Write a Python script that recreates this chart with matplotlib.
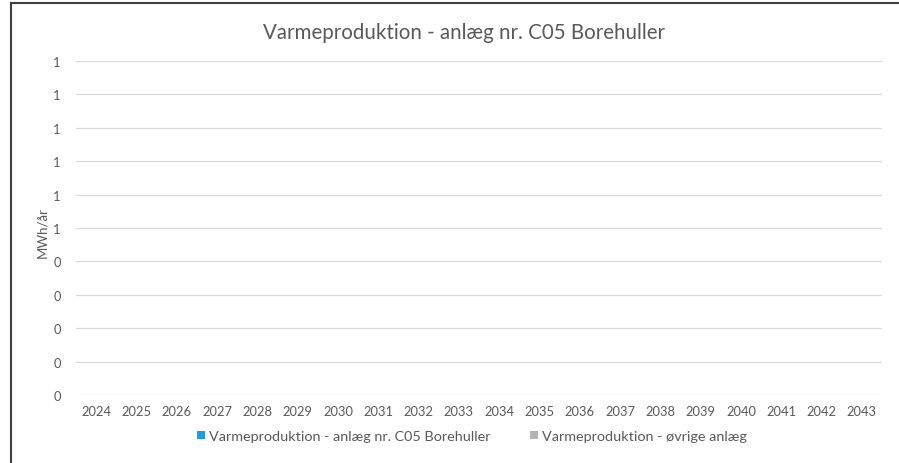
import math
import matplotlib
matplotlib.use("Agg")
import matplotlib.pyplot as plt
from matplotlib.ticker import FuncFormatter, MultipleLocator
from matplotlib.lines import Line2D

years = [str(y) for y in range(2024, 2044)]
c05_values = [0] * 20
other_values = [0] * 20

title = "Varmeproduktion - anlæg nr. C05 Borehuller"
series_names = ["Varmeproduktion - anlæg nr. C05 Borehuller", "Varmeproduktion - øvrige anlæg"]
ylabel = "MWh/år"

plt.rcParams['font.family'] = ['Lato', 'DejaVu Sans']

W, H = 899, 464
fig = plt.figure(figsize=(W / 100, H / 100), dpi=100)
ax = fig.add_axes([76 / W, 68 / H, (882 - 76) / W, (396 - 62) / H])

x = range(len(years))
b1 = ax.bar(x, c05_values, width=0.5, color="#1E9BE6", label=series_names[0])
b2 = ax.bar(x, other_values, width=0.5, bottom=c05_values, color="#B4B4B4", label=series_names[1])

ax.set_xlim(-0.5, len(years) - 0.5)
ax.set_ylim(0, 1)
ax.yaxis.set_major_locator(MultipleLocator(0.1))
ax.yaxis.set_major_formatter(FuncFormatter(lambda v, p: f"{int(math.floor(v + 0.5 + 1e-9))}"))
ax.set_xticks(list(x))
ax.set_xticklabels(years)
ax.grid(axis="y", color="#D9D9D9", linewidth=0.9)
ax.set_axisbelow(True)
for s in ax.spines.values():
    s.set_visible(False)
ax.tick_params(axis="both", length=0, colors="#595959", labelsize=9.3)
ax.tick_params(axis="y", pad=11)
ax.tick_params(axis="x", pad=7)

fig.text(42 / W, 1 - 233 / H, ylabel, rotation=90, ha="center", va="center", fontsize=9.5, color="#595959")
fig.text(464 / W, 1 - 33 / H, title, ha="center", va="center", fontsize=14.8, color="#595959")

leg = fig.legend(handles=[b1, b2], loc="center", bbox_to_anchor=(472 / W, 1 - 437 / H), ncol=2,
                 frameon=False, fontsize=10.4, handlelength=0.55, handleheight=0.55, handletextpad=0.25,
                 columnspacing=2.75)
for t in leg.get_texts():
    t.set_color("#595959")

# chart border (left and top visible)
fig.add_artist(Line2D([10.5 / W, 10.5 / W], [0, 1 - 3.5 / H], color="#404040", linewidth=1.5, transform=fig.transFigure))
fig.add_artist(Line2D([10.5 / W, 1], [1 - 3.5 / H, 1 - 3.5 / H], color="#404040", linewidth=1.5, transform=fig.transFigure))

fig.savefig("out.png", dpi=100, facecolor="white")
